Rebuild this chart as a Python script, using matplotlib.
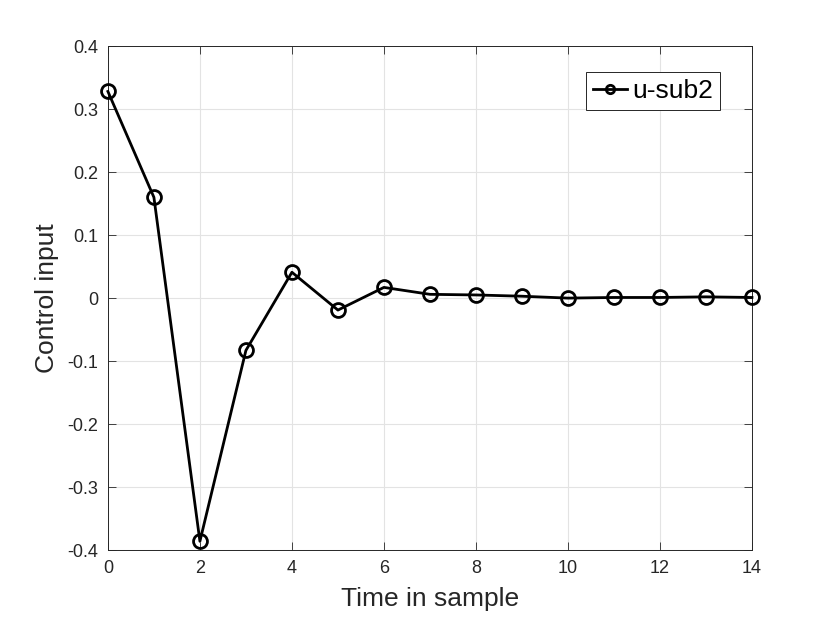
import matplotlib
matplotlib.use("Agg")
import matplotlib.pyplot as plt
from matplotlib.lines import Line2D

# Control input samples
samples = list(range(15))
u_sub2 = [0.328, 0.160, -0.386, -0.083, 0.041, -0.019, 0.017, 0.006,
          0.005, 0.003, 0.000, 0.001, 0.001, 0.002, 0.001]
x_ticks = [0, 2, 4, 6, 8, 10, 12, 14]
y_ticks = [-0.4, -0.3, -0.2, -0.1, 0, 0.1, 0.2, 0.3, 0.4]
y_tick_labels = ["-0.4", "-0.3", "-0.2", "-0.1", "0", "0.1", "0.2", "0.3", "0.4"]

plt.rcParams["font.family"] = ["Liberation Sans", "DejaVu Sans"]

fig = plt.figure(figsize=(8.3, 6.23), dpi=100)
ax = fig.add_axes([0.130, 0.117, 0.776, 0.809])

ax.plot(samples, u_sub2, color="black", linewidth=2, marker="o",
        markersize=10, markerfacecolor="none", markeredgewidth=2,
        clip_on=False, zorder=3)

ax.set_xlim(0, 14)
ax.set_ylim(-0.4, 0.4)
ax.set_xticks(x_ticks)
ax.set_yticks(y_ticks)
ax.set_yticklabels(y_tick_labels)
ax.grid(True, color="#e3e3e3", linewidth=0.8)
ax.set_axisbelow(True)
ax.tick_params(direction="in", labelsize=13, length=6, width=0.6,
               top=True, right=True, colors="#262626", pad=7)
for s in ax.spines.values():
    s.set_linewidth(0.7)
    s.set_color("#262626")

ax.set_xlabel("Time in sample", fontsize=19, color="#262626", labelpad=7)
ax.set_ylabel("Control input", fontsize=19, color="#262626", labelpad=6)

handle = Line2D([], [], color="black", linewidth=2, marker="o", markersize=6,
                markerfacecolor="none", markeredgewidth=2)
leg = ax.legend([handle], ["u-sub2"], loc="upper right", fontsize=19,
                fancybox=False, edgecolor="#262626", framealpha=1,
                handlelength=1.3, handletextpad=0.2, borderpad=0.25,
                borderaxespad=0, bbox_to_anchor=(0.95, 0.948))
leg.get_frame().set_linewidth(0.7)

fig.savefig("out.png", dpi=100)
